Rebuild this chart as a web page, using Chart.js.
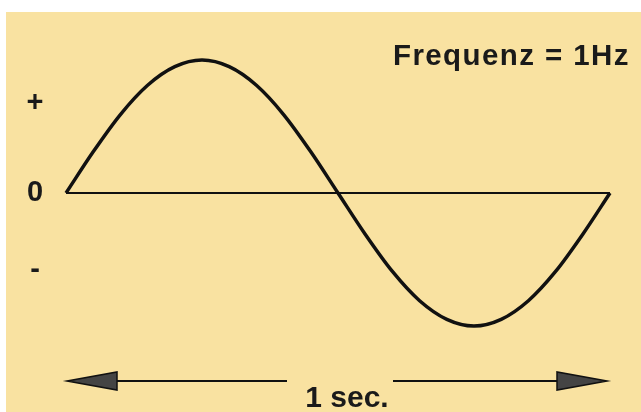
<!DOCTYPE html>
<html>
<head>
<meta charset="utf-8">
<script src="https://cdn.jsdelivr.net/npm/chart.js@4/dist/chart.umd.min.js"></script>
<style>
  html, body { margin: 0; padding: 0; background: #fff; }
  #wrap { width: 641px; height: 412px; }
</style>
</head>
<body>
<div id="wrap"><canvas id="sineChart" width="641" height="412"></canvas></div>
<script>
// time in seconds and signal value (1 = peak)
const times = [0, 0.05, 0.1, 0.15, 0.2, 0.25, 0.3, 0.35, 0.4, 0.45, 0.5,
               0.55, 0.6, 0.65, 0.7, 0.75, 0.8, 0.85, 0.9, 0.95, 1];
const signal = [0, 0.31, 0.59, 0.81, 0.95, 1, 0.95, 0.81, 0.59, 0.31, 0,
                -0.31, -0.59, -0.81, -0.95, -1, -0.95, -0.81, -0.59, -0.31, 0];
const baseline = [0, 0];
const baseTimes = [0, 1];
const levelLabels = ['+', '0', '-'];
const levelValues = [0.68, 0, -0.58];
const titleText = 'Frequenz = 1Hz';
const spanText = '1 sec.';

const ctx = document.getElementById('sineChart').getContext('2d');

const bgPlugin = { // yellow paper with a thin white border top/left
    id: 'bgPlugin',
    beforeDraw: function(chart) {
        const c = chart.ctx;
        c.save();
        c.fillStyle = '#ffffff';
        c.fillRect(0, 0, chart.width, chart.height);
        c.fillStyle = '#f9e2a1';
        c.fillRect(6, 12, chart.width - 6, chart.height - 12);
        c.restore();
    }
};

function arrowHead(c, tipX, y, dir) {
    c.beginPath();
    c.moveTo(tipX, y);
    c.lineTo(tipX + dir * 50, y - 9);
    c.lineTo(tipX + dir * 50, y + 9);
    c.closePath();
    c.fillStyle = '#444444';
    c.fill();
    c.lineWidth = 1.5;
    c.strokeStyle = '#111111';
    c.stroke();
}

const labelPlugin = { // level marks, title and the 1 sec. arrow
    id: 'labelPlugin',
    afterDraw: function(chart) {
        const c = chart.ctx;
        const xs = chart.scales.x;
        const ys = chart.scales.y;
        c.save();
        c.fillStyle = '#1a1a1a';
        c.textAlign = 'center';
        c.textBaseline = 'middle';
        c.font = 'bold 29px "Liberation Sans", Arial, sans-serif';
        levelLabels.forEach((lab, i) => {
            c.fillText(lab, 35, ys.getPixelForValue(levelValues[i]));
        });

        c.textAlign = 'left';
        c.textBaseline = 'alphabetic';
        c.font = 'bold 29.5px "Liberation Sans", Arial, sans-serif';
        c.letterSpacing = '1.4px';
        c.fillText(titleText, 393, 65);
        c.letterSpacing = '0px';

        const left = xs.getPixelForValue(0) + 1;
        const right = xs.getPixelForValue(1) - 3;
        const ay = 381;
        const mid = 347;
        c.strokeStyle = '#111111';
        c.lineWidth = 2;
        c.beginPath();
        c.moveTo(left + 50, ay);
        c.lineTo(mid - 60, ay);
        c.moveTo(mid + 46, ay);
        c.lineTo(right - 50, ay);
        c.stroke();
        arrowHead(c, left, ay, 1);
        arrowHead(c, right, ay, -1);

        c.fillStyle = '#1a1a1a';
        c.textAlign = 'center';
        c.font = 'bold 30px "Liberation Sans", Arial, sans-serif';
        c.fillText(spanText, mid, 407);
        c.restore();
    }
};

const config = {
    type: 'line',
    data: {
        datasets: [{
            label: 'Signal',
            data: times.map((t, i) => ({ x: t, y: signal[i] })),
            borderColor: '#111111',
            borderWidth: 3.5,
            pointRadius: 0,
            tension: 0.4,
            cubicInterpolationMode: 'monotone',
            clip: false
        }, {
            label: 'Null',
            data: baseTimes.map((t, i) => ({ x: t, y: baseline[i] })),
            borderColor: '#111111',
            borderWidth: 2,
            pointRadius: 0,
            clip: false
        }]
    },
    options: {
        responsive: false,
        animation: false,
        layout: {
            padding: { left: 66, right: 31, top: 60, bottom: 86 }
        },
        scales: {
            x: { type: 'linear', min: 0, max: 1, display: false },
            y: { min: -1, max: 1, display: false }
        },
        plugins: {
            legend: { display: false },
            tooltip: { enabled: false }
        }
    },
    plugins: [bgPlugin, labelPlugin]
};

const sineChart = new Chart(ctx, config);
</script>
</body>
</html>
